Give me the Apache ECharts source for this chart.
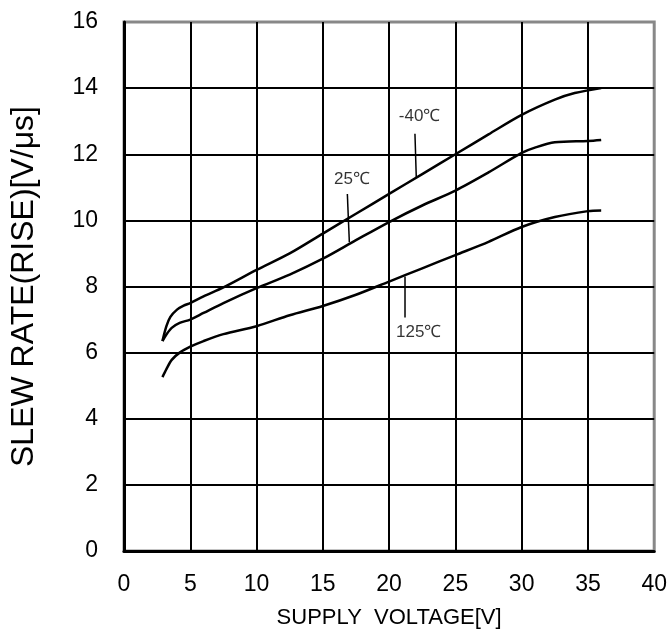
<!DOCTYPE html>
<html>
<head>
<meta charset="utf-8">
<script src="https://cdn.jsdelivr.net/npm/echarts@6/dist/echarts.min.js"></script>
<style>
  html, body { margin: 0; padding: 0; background: #fff; }
  #chart { width: 670px; height: 640px; }
</style>
</head>
<body>
<div id="chart"></div>
<script>
// supply voltage [V] / slew rate [V/us]
const tempNeg40 = [
  [2.9, 6.35], [3.2, 6.8], [3.5, 7.08], [4, 7.3], [4.5, 7.42], [5, 7.5],
  [6, 7.7], [7.5, 7.97], [10, 8.5], [12.5, 9.0], [15, 9.6], [17.5, 10.2],
  [20, 10.8], [22.5, 11.4], [25, 12.0], [27.5, 12.6], [30, 13.19],
  [32.5, 13.65], [34, 13.85], [36, 14.0]
];
const temp25 = [
  [2.9, 6.35], [3.2, 6.55], [3.6, 6.75], [4.2, 6.9], [5, 7.0], [6, 7.2],
  [7.5, 7.5], [10, 7.95], [12.5, 8.36], [15, 8.84], [17.5, 9.4], [20, 9.95],
  [22.5, 10.45], [25, 10.9], [27.5, 11.45], [30, 12.04], [31, 12.2],
  [32.5, 12.36], [35, 12.4], [36, 12.43]
];
const temp125 = [
  [2.9, 5.26], [3.2, 5.5], [3.6, 5.78], [4.2, 6.0], [5, 6.18], [6, 6.35],
  [7.5, 6.56], [10, 6.8], [12.5, 7.13], [15, 7.41], [17.5, 7.75], [20, 8.15],
  [22.5, 8.55], [25, 8.95], [27.5, 9.35], [30, 9.8], [32.5, 10.1],
  [35, 10.28], [36, 10.3]
];

// curve labels and their leader lines
const labelTexts = ["-40℃", "25℃", "125℃"];
const labelPoints = [[22.3, 13.15], [17.2, 11.24], [22.24, 6.62]];
const leaderLines = [
  [[21.95, 12.62], [22.05, 11.3]],
  [[16.85, 10.8], [17.0, 9.34]],
  [[21.2, 8.3], [21.2, 7.06]]
];

const font = '"Liberation Sans", Arial, sans-serif';

const curve = (data) => ({
  type: "line",
  data: data,
  smooth: 0.3,
  symbol: "none",
  lineStyle: { color: "#000", width: 2.5 },
  silent: true,
});

const leaderSeries = leaderLines.map((pts) => ({
  type: "line",
  data: pts,
  symbol: "none",
  lineStyle: { color: "#000", width: 1.5 },
  silent: true,
}));

const option = {
  backgroundColor: "#fff",
  animation: false,
  grid: {
    left: 122,
    right: 14,
    top: 22,
    bottom: 89,
    show: true,
    borderColor: "#888",
    borderWidth: 3,
  },
  xAxis: {
    type: "value",
    min: 0,
    max: 40,
    interval: 5,
    name: "SUPPLY  VOLTAGE[V]",
    nameLocation: "middle",
    nameGap: 56,
    nameTextStyle: { color: "#000", fontSize: 22, fontFamily: font },
    axisLine: { lineStyle: { color: "#000", width: 3 } },
    axisTick: { show: false },
    axisLabel: { color: "#000", fontSize: 23, fontFamily: font, margin: 22 },
    splitLine: {
      show: true,
      showMinLine: false,
      showMaxLine: false,
      lineStyle: { color: "#000", width: 2 },
    },
  },
  yAxis: {
    type: "value",
    min: 0,
    max: 16,
    interval: 2,
    name: "SLEW RATE(RISE)[V/μs]",
    nameLocation: "middle",
    nameGap: 84,
    nameTextStyle: { color: "#000", fontSize: 32, fontFamily: font },
    axisLine: { lineStyle: { color: "#000", width: 3 } },
    axisTick: { show: false },
    axisLabel: { color: "#000", fontSize: 23, fontFamily: font, margin: 26 },
    splitLine: {
      show: true,
      showMinLine: false,
      showMaxLine: false,
      lineStyle: { color: "#000", width: 2 },
    },
  },
  series: [
    curve(tempNeg40),
    curve(temp25),
    curve(temp125),
    ...leaderSeries,
    {
      type: "scatter",
      symbolSize: 0,
      silent: true,
      data: labelPoints.map((p, i) => ({ value: p, name: labelTexts[i] })),
      label: {
        show: true,
        position: "inside",
        formatter: (p) => p.name,
        color: "#000",
        fontSize: 17,
        fontFamily: font,
      },
    },
  ],
};

const chart = echarts.init(document.getElementById("chart"));
chart.setOption(option);
</script>
</body>
</html>
